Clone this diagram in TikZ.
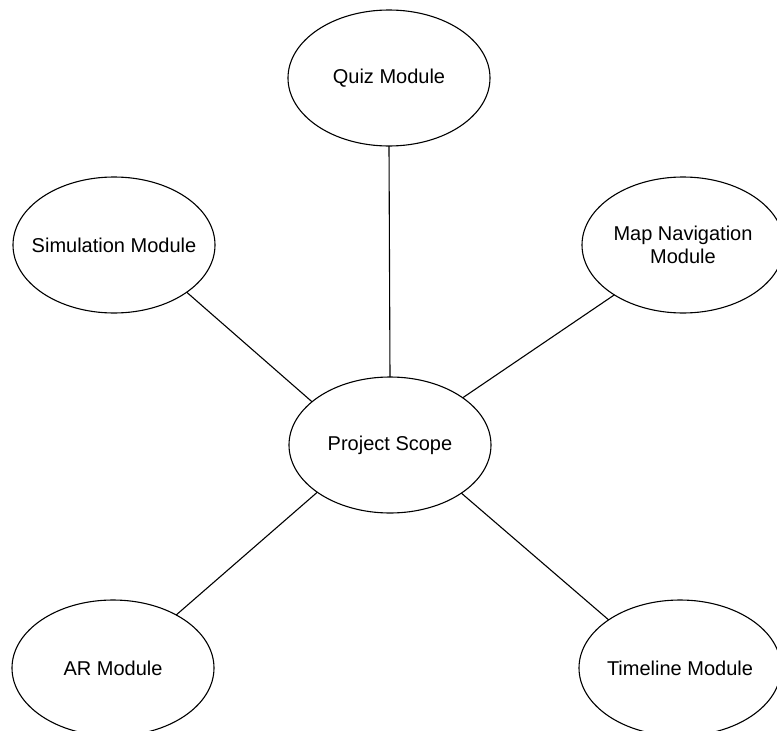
\documentclass[tikz,border=0pt]{standalone}
\usepackage{fontspec}
\setmainfont{Liberation Sans}
\usetikzlibrary{shapes.geometric}

\begin{document}
\begin{tikzpicture}[x=1pt,y=-1pt,
		module/.style={ellipse, draw, line width=1.1pt, inner sep=0pt, outer sep=0pt,
			minimum width=202pt, minimum height=136pt,
			label={[font=\fontsize{20}{23}\selectfont, align=center, inner sep=0pt]center:#1}},
		link/.style={line width=1.1pt}]
	\useasboundingbox (0,0) rectangle (777,731);
	\node[module={Project Scope}] (scope) at (390,445) {};
	\node[module={Quiz Module}] (quiz) at (389,78) {};
	\node[module={Simulation Module}] (sim) at (114,245) {};
	\node[module={Map Navigation\\Module}] (map) at (683,245) {};
	\node[module={AR Module}] (ar) at (113,668) {};
	\node[module={Timeline Module}] (time) at (680,668) {};
	\path[link]
	(quiz.south) edge (scope.north)
	(sim.-33) edge (scope.151)
	(map.-144) edge (scope.33)
	(ar.40) edge (scope.-147)
	(time.146) edge (scope.-34);
\end{tikzpicture}
\end{document}
